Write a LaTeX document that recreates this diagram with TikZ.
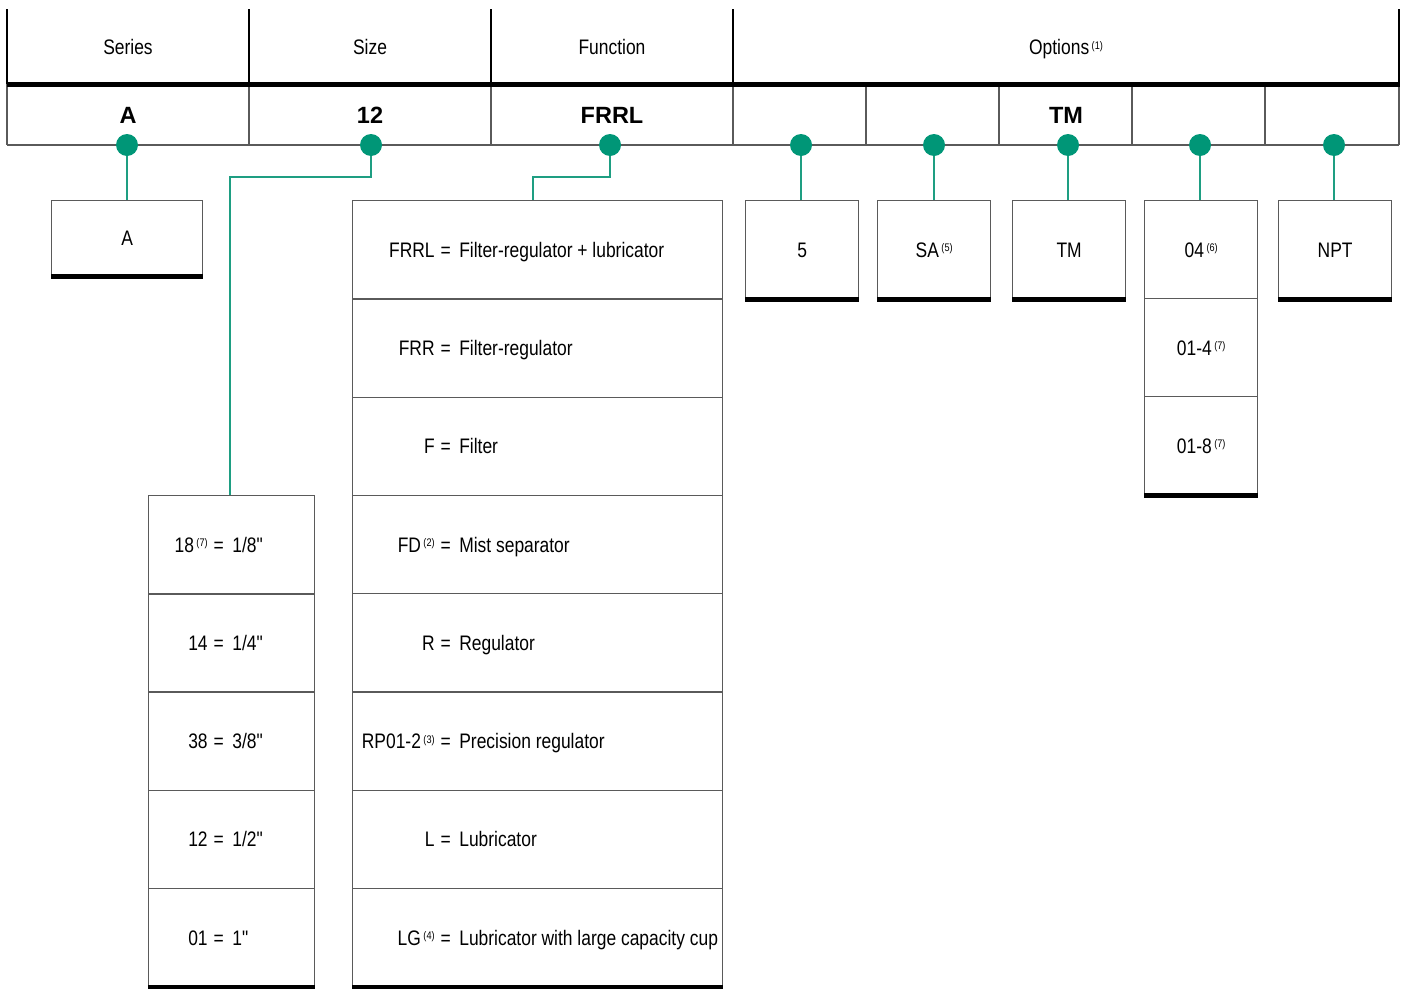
\documentclass[tikz,border=0pt]{standalone}
\usepackage{fontspec}
\setmainfont{Liberation Sans}[FakeStretch=0.83, Ligatures=TeXOff]
\newfontfamily\widefont{Liberation Sans}
\definecolor{dotgreen}{HTML}{009677}
\definecolor{conngreen}{HTML}{1E9E82}
\definecolor{linegray}{HTML}{5A5A5A}
\newcommand\fn[1]{\hspace{2.5pt}\raisebox{5.5pt}{\fontsize{11}{11}\selectfont(#1)}}
\newcommand\eqrow[4]{\hbox to #1{\hbox to #2{\hfil #3}\hspace{6pt}=\hspace{8.5pt}#4\hfil}}
\begin{document}
\begin{tikzpicture}[x=1pt,y=-1pt,
  txt/.style={font=\fontsize{21}{25}\selectfont, inner sep=0pt, text height=15pt, text depth=0pt},
  hd/.style={font=\widefont\bfseries\fontsize{23.5}{28}\selectfont, inner sep=0pt, text height=17pt, text depth=0pt},
  rule/.style={draw=linegray, line width=1.3pt},
  vrule/.style={draw=black, line width=1.2pt},
  bar/.style={draw=black, line width=4.5pt},
  cell/.style={txt, draw=linegray, line width=1.3pt, rectangle, anchor=north west},
  dot/.style={circle, fill=dotgreen, minimum size=22pt, inner sep=0pt},
  conn/.style={draw=conngreen, line width=1.8pt}]
\useasboundingbox (0,0) rectangle (1402,988);
% header lines
\foreach \x in {7,249,491,733,1399} \draw[vrule] (\x,9) -- (\x,84);
\foreach \x in {7,249,491,733,866,999,1132,1265,1399} \draw[rule] (\x,84) -- (\x,145);
\draw[rule] (7,145) -- (1399,145);
\draw[bar] (7,84.5) -- (1399.6,84.5);
% header texts
\node[txt] (hser) at (128,47) {Series};
\node[txt] (hsiz) at (370,47) {Size};
\node[txt] (hfun) at (612,47) {Function};
\node[txt] (hopt) at (1066,47) {Options\fn{1}};
\node[hd] (vser) at (128,115) {A};
\node[hd] (vsiz) at (370,115) {12};
\node[hd] (vfun) at (612,115) {FRRL};
\node[hd] (vtm) at (1066,115) {TM};
% series box
\node[cell, minimum width=151pt, minimum height=75pt] (a) at (51,200) {A};
\draw[bar] (a.south west) -- (a.south east);
% size column
\node[cell, minimum width=166pt, minimum height=98.2pt] (s1) at (148,495) {\eqrow{166pt}{59pt}{18\fn{7}}{1/8"}};
\node[cell, minimum width=166pt, minimum height=98.2pt] (s2) at (148,593.2) {\eqrow{166pt}{59pt}{14}{1/4"}};
\node[cell, minimum width=166pt, minimum height=98.2pt] (s3) at (148,691.4) {\eqrow{166pt}{59pt}{38}{3/8"}};
\node[cell, minimum width=166pt, minimum height=98.2pt] (s4) at (148,789.6) {\eqrow{166pt}{59pt}{12}{1/2"}};
\node[cell, minimum width=166pt, minimum height=98.2pt] (s5) at (148,887.8) {\eqrow{166pt}{59pt}{01}{1"}};
\draw[bar] (s5.south west) -- (s5.south east);
% function column
\node[cell, minimum width=370pt, minimum height=98.25pt] (f1) at (352,200) {\eqrow{370pt}{82pt}{FRRL}{Filter-regulator + lubricator}};
\node[cell, minimum width=370pt, minimum height=98.25pt] (f2) at (352,298.25) {\eqrow{370pt}{82pt}{FRR}{Filter-regulator}};
\node[cell, minimum width=370pt, minimum height=98.25pt] (f3) at (352,396.5) {\eqrow{370pt}{82pt}{F}{Filter}};
\node[cell, minimum width=370pt, minimum height=98.25pt] (f4) at (352,494.75) {\eqrow{370pt}{82pt}{FD\fn{2}}{Mist separator}};
\node[cell, minimum width=370pt, minimum height=98.25pt] (f5) at (352,593) {\eqrow{370pt}{82pt}{R}{Regulator}};
\node[cell, minimum width=370pt, minimum height=98.25pt] (f6) at (352,691.25) {\eqrow{370pt}{82pt}{RP01-2\fn{3}}{Precision regulator}};
\node[cell, minimum width=370pt, minimum height=98.25pt] (f7) at (352,789.5) {\eqrow{370pt}{82pt}{L}{Lubricator}};
\node[cell, minimum width=370pt, minimum height=98.25pt] (f8) at (352,887.75) {\eqrow{370pt}{82pt}{LG\fn{4}}{Lubricator with large capacity cup}};
\draw[bar] (f8.south west) -- (f8.south east);
% options boxes
\node[cell, minimum width=113pt, minimum height=98pt] (o1) at (745,200) {5};
\node[cell, minimum width=113pt, minimum height=98pt] (o2) at (877,200) {SA\fn{5}};
\node[cell, minimum width=113pt, minimum height=98pt] (o3) at (1012,200) {TM};
\node[cell, minimum width=113pt, minimum height=98pt] (o4a) at (1144,200) {04\fn{6}};
\node[cell, minimum width=113pt, minimum height=98pt] (o4b) at (1144,298) {01-4\fn{7}};
\node[cell, minimum width=113pt, minimum height=98pt] (o4c) at (1144,396) {01-8\fn{7}};
\node[cell, minimum width=113pt, minimum height=98pt] (o5) at (1278,200) {NPT};
\foreach \n in {o1,o2,o3,o4c,o5} \draw[bar] (\n.south west) -- (\n.south east);
% dots
\node[dot] (d1) at (127,145) {};
\node[dot] (d2) at (371,145) {};
\node[dot] (d3) at (610,145) {};
\node[dot] (d4) at (801,145) {};
\node[dot] (d5) at (934,145) {};
\node[dot] (d6) at (1068,145) {};
\node[dot] (d7) at (1200,145) {};
\node[dot] (d8) at (1334,145) {};
% connectors
\coordinate (e2) at (230,177);
\coordinate (e3) at (533,177);
\draw[conn] (d1.south) -- (d1.south |- a.north);
\draw[conn] (d2.south) |- (e2) -- (e2 |- s1.north);
\draw[conn] (d3.south) |- (e3) -- (e3 |- f1.north);
\draw[conn] (d4.south) -- (d4.south |- o1.north);
\draw[conn] (d5.south) -- (d5.south |- o2.north);
\draw[conn] (d6.south) -- (d6.south |- o3.north);
\draw[conn] (d7.south) -- (d7.south |- o4a.north);
\draw[conn] (d8.south) -- (d8.south |- o5.north);
\end{tikzpicture}
\end{document}
